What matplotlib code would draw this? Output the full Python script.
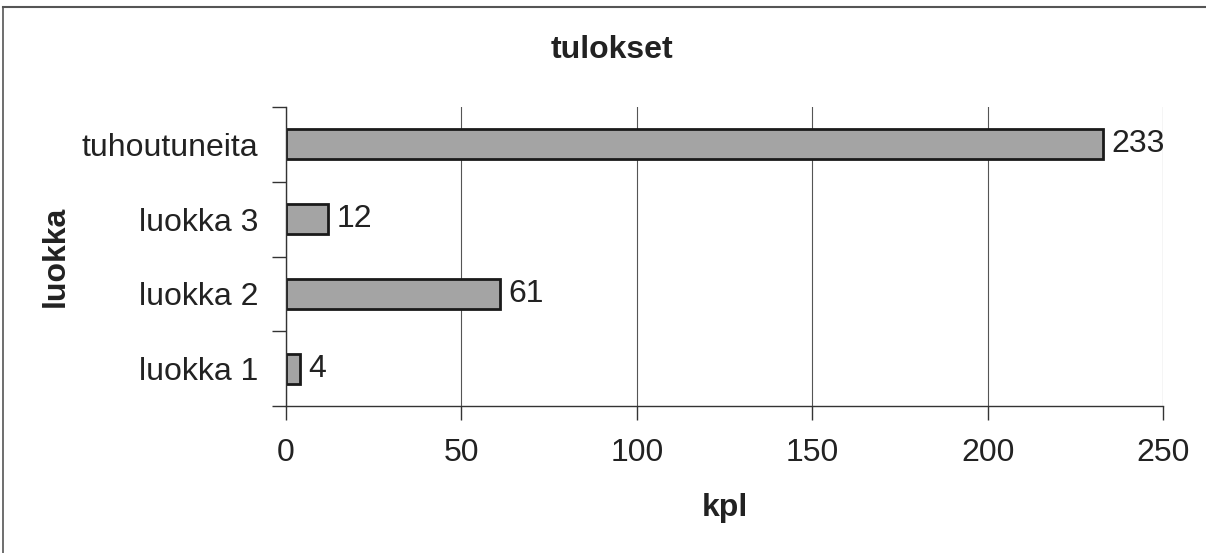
import matplotlib
matplotlib.use("Agg")
import matplotlib.pyplot as plt
from matplotlib.lines import Line2D
from matplotlib.ticker import FixedLocator

plt.rcParams['font.family'] = ['Liberation Sans', 'DejaVu Sans']

categories = ["luokka 1", "luokka 2", "luokka 3", "tuhoutuneita"]
values = [4, 61, 12, 233]
xticks = [0, 50, 100, 150, 200, 250]

W, H = 1206, 553
fig = plt.figure(figsize=(W / 100, H / 100), dpi=100)
ax = fig.add_axes([286 / W, 1 - 406 / H, (1163 - 286) / W, (406 - 107) / H])

txt = "#222222"
fs = 23
ypos = list(range(len(categories)))
bars = ax.barh(ypos, values, height=0.4, color="#a4a4a4", edgecolor="#1a1a1a", linewidth=2)
ax.bar_label(bars, labels=[str(v) for v in values], padding=6, fontsize=fs, color=txt)

ax.set_xlim(0, 250)
ax.set_ylim(-0.5, len(categories) - 0.5)
ax.set_xticks(xticks)
ax.set_xticklabels([str(t) for t in xticks], fontsize=fs, color=txt)
ax.set_yticks(ypos)
ax.set_yticklabels(categories, fontsize=fs, color=txt)
ax.yaxis.set_minor_locator(FixedLocator([i - 0.5 for i in range(len(categories) + 1)]))
ax.tick_params(axis='y', which='major', length=0, pad=20)
ax.tick_params(axis='y', which='minor', length=10, width=1, color="#333333")
ax.tick_params(axis='x', which='major', length=10, width=1, color="#333333", pad=13)

ax.grid(axis='x', color="#555555", linewidth=0.8)
ax.set_axisbelow(True)
for s in ['top', 'right']:
    ax.spines[s].set_visible(False)
for s in ['left', 'bottom']:
    ax.spines[s].set_color("#333333")
    ax.spines[s].set_linewidth(1)

fig.text(612 / W, 1 - 50 / H, "tulokset", fontsize=fs, fontweight='bold', color=txt,
         ha='center', va='center')
ax.set_xlabel("kpl", fontsize=fs, fontweight='bold', color=txt, labelpad=18)
ax.set_ylabel("luokka", fontsize=fs, fontweight='bold', color=txt, labelpad=8)

# outer frame (top and left edges visible)
fig.add_artist(Line2D([3 / W, 1], [1 - 7 / H, 1 - 7 / H], color="#555555", linewidth=1.5))
fig.add_artist(Line2D([3 / W, 3 / W], [0, 1 - 7 / H], color="#555555", linewidth=1.2))

fig.savefig("out.png", dpi=100)
